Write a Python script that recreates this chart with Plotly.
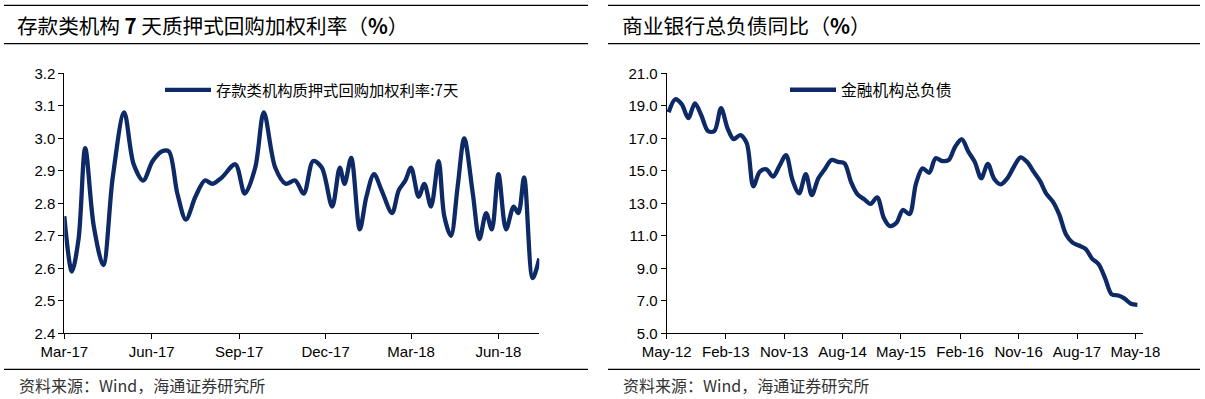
import plotly.graph_objects as go
import pandas as pd

# ---- Left chart: 存款类机构7天质押式回购加权利率 ----
dates_left = ["2017-03-01","2017-03-09","2017-03-16","2017-03-23","2017-04-01","2017-04-11","2017-04-21",
              "2017-05-03","2017-05-13","2017-05-23","2017-06-02","2017-06-12","2017-06-19","2017-06-28",
              "2017-07-07","2017-07-17","2017-07-27","2017-08-04","2017-08-14","2017-08-28","2017-09-07",
              "2017-09-18","2017-09-27","2017-10-09","2017-10-20","2017-10-30","2017-11-08","2017-11-18",
              "2017-11-27","2017-12-08","2017-12-16","2017-12-21","2017-12-28","2018-01-06","2018-01-13",
              "2018-01-21","2018-01-29","2018-02-09","2018-02-16","2018-02-23","2018-03-01","2018-03-09",
              "2018-03-15","2018-03-22","2018-03-30","2018-04-05","2018-04-12","2018-04-19","2018-04-26",
              "2018-05-05","2018-05-12","2018-05-19","2018-05-25","2018-06-01","2018-06-09","2018-06-17",
              "2018-06-22","2018-06-28","2018-07-07","2018-07-14"]
repo_rate = [2.76,2.59,2.69,2.97,2.73,2.61,2.88,3.08,2.92,2.87,2.93,2.96,2.96,2.83,2.75,2.82,2.87,2.86,
             2.88,2.92,2.83,2.91,3.08,2.91,2.86,2.87,2.83,2.93,2.91,2.79,2.91,2.86,2.94,2.72,2.82,2.89,
             2.84,2.77,2.84,2.87,2.91,2.82,2.86,2.79,2.93,2.76,2.70,2.85,3.00,2.83,2.69,2.77,2.72,2.89,
             2.72,2.79,2.77,2.88,2.57,2.63]

# ---- Right chart: 商业银行总负债同比 (monthly, May-12 .. May-18) ----
months_right = pd.date_range(start="2012-05-01", periods=73, freq="MS") + pd.Timedelta(days=9)
liab_yoy = [18.6,19.4,19.1,18.25,19.15,18.4,17.45,17.45,18.85,17.6,
            16.95,17.2,16.7,14.05,14.94,15.09,14.64,15.3,15.97,14.43,
            13.62,14.8,13.51,14.54,15.1,15.66,15.55,15.46,14.3,13.55,
            13.25,12.96,13.37,12.1,11.6,11.8,12.59,12.34,14.2,15.15,
            14.88,15.77,15.6,15.66,16.5,16.94,16.2,15.55,14.54,15.42,
            14.5,14.17,14.55,15.25,15.83,15.55,14.95,14.35,13.6,13.1,
            12.3,11.1,10.6,10.4,10.2,9.6,9.25,8.4,7.4,7.33,
            7.15,6.82,6.75]

title_left = "存款类机构 <b>7</b> 天质押式回购加权利率（<b>%</b>）"
title_right = "商业银行总负债同比（<b>%</b>）"
legend_left = "存款类机构质押式回购加权利率:7天"
legend_right = "金融机构总负债"
source_text = "资料来源：Wind，海通证券研究所"

W, H = 1205, 399
NAVY = "#0E2A66"
CJK = "Noto Sans CJK SC"
LAT = "Liberation Sans, Arial"

fig = go.Figure()
fig.add_trace(go.Scatter(x=dates_left, y=repo_rate, mode="lines", name=legend_left,
                         line=dict(color=NAVY, width=4.3, shape="spline", smoothing=0.9),
                         xaxis="x", yaxis="y", legend="legend"))
fig.add_trace(go.Scatter(x=months_right, y=liab_yoy, mode="lines", name=legend_right,
                         line=dict(color=NAVY, width=4.3, shape="spline", smoothing=0.9),
                         xaxis="x2", yaxis="y2", legend="legend2"))

def px_x(p):
    return p / W

def px_y(p):
    return 1 - p / H

axis_common = dict(showline=True, linecolor="black", linewidth=1, ticks="outside", ticklen=5,
                   tickcolor="black", showgrid=False, zeroline=False, automargin=False,
                   tickfont=dict(family=LAT, size=15, color="black"))

fig.update_layout(
    width=W, height=H, margin=dict(l=0, r=0, t=0, b=0, autoexpand=False),
    paper_bgcolor="white", plot_bgcolor="white",
    xaxis=dict(domain=[px_x(64.3), px_x(539.3)], anchor="y", type="date",
               range=["2017-03-01", "2018-07-14"], tick0="2017-03-01", dtick="M3",
               tickformat="%b-%y", tickangle=0, **axis_common),
    yaxis=dict(domain=[px_y(333.3), px_y(73.3)], anchor="x", range=[2.4, 3.2], tick0=2.4, dtick=0.1,
               tickformat=".1f", **axis_common),
    xaxis2=dict(domain=[px_x(666.7), px_x(1142.7)], anchor="y2", type="date",
                range=["2012-05-01", "2018-06-04"], tick0="2012-05-01", dtick="M9",
                tickformat="%b-%y", tickangle=0, **axis_common),
    yaxis2=dict(domain=[px_y(333.3), px_y(73.3)], anchor="x2", range=[5, 21], tick0=5, dtick=2,
                tickformat=".1f", **axis_common),
    legend=dict(xref="container", yref="container", x=px_x(160), y=px_y(90), xanchor="left",
                yanchor="middle", bgcolor="rgba(0,0,0,0)", itemwidth=46,
                font=dict(family=CJK, size=15.3, color="black")),
    legend2=dict(xref="container", yref="container", x=px_x(785), y=px_y(90), xanchor="left",
                 yanchor="middle", bgcolor="rgba(0,0,0,0)", itemwidth=46,
                 font=dict(family=CJK, size=15.8, color="black")),
    showlegend=True,
)

# Panel frame lines (title bar and footer separators)
shapes = []
for (x0, x1) in [(4, 588), (608, 1200)]:
    for yy in [5.3, 43.7, 369.3]:
        shapes.append(dict(type="line", xref="paper", yref="paper", x0=px_x(x0), x1=px_x(x1),
                           y0=px_y(yy), y1=px_y(yy), line=dict(color="black", width=1.2)))
fig.update_layout(shapes=shapes)

annotations = [
    dict(text=title_left, x=px_x(15), y=px_y(25), xref="paper", yref="paper", xanchor="left",
         yanchor="middle", showarrow=False, font=dict(family=CJK, size=20.6, color="black")),
    dict(text=title_right, x=px_x(620), y=px_y(25), xref="paper", yref="paper", xanchor="left",
         yanchor="middle", showarrow=False, font=dict(family=CJK, size=20.8, color="black")),
    dict(text=source_text, x=px_x(17), y=px_y(385), xref="paper", yref="paper", xanchor="left",
         yanchor="middle", showarrow=False, font=dict(family=CJK, size=16, color="#333")),
    dict(text=source_text, x=px_x(621), y=px_y(385), xref="paper", yref="paper", xanchor="left",
         yanchor="middle", showarrow=False, font=dict(family=CJK, size=16, color="#333")),
]
fig.update_layout(annotations=annotations)

fig.write_html("out.html", config={"displayModeBar": False},
               post_script="document.body.style.margin='0';document.body.style.overflow='hidden';")
